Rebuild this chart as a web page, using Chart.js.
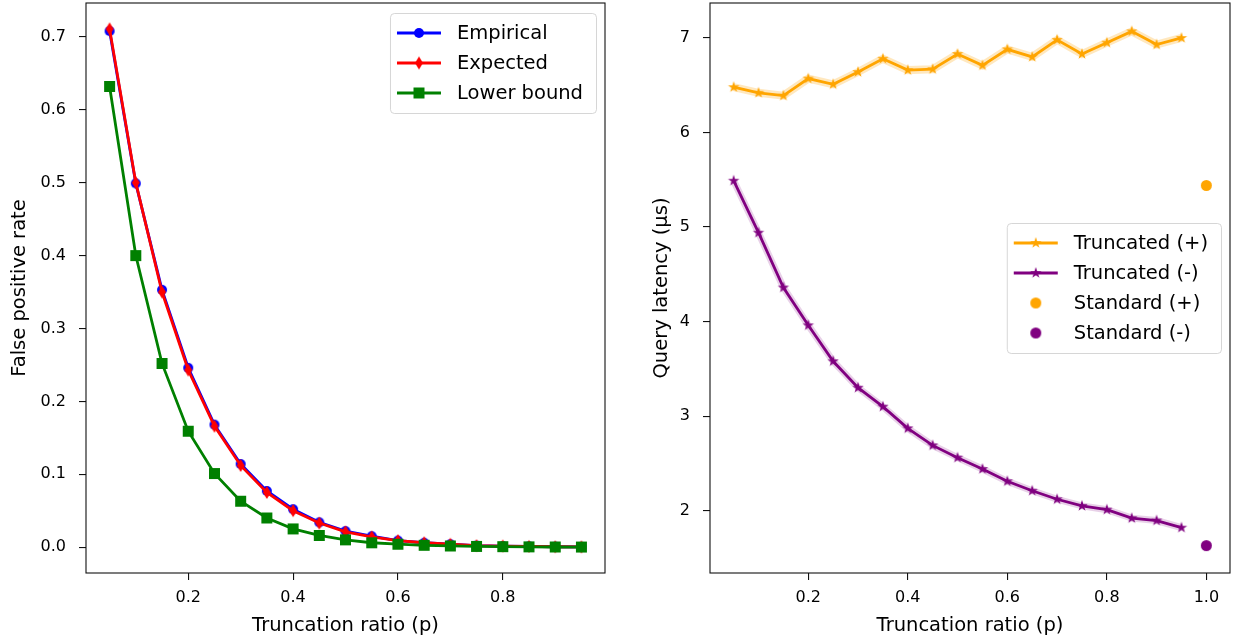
<!DOCTYPE html>
<html>
<head>
<meta charset="utf-8">
<script src="https://cdn.jsdelivr.net/npm/chart.js@4.4.1/dist/chart.umd.min.js"></script>
<style>
  html, body { margin: 0; padding: 0; background: #fff; }
  #wrap { position: relative; width: 1233px; height: 638px; overflow: hidden; }
  #fpr { position: absolute; left: 0; top: 0; }
  #lat { position: absolute; left: 640px; top: 0; }
</style>
</head>
<body>
<div id="wrap">
  <canvas id="fpr" width="640" height="638"></canvas>
  <canvas id="lat" width="593" height="638"></canvas>
</div>
<script>
// ---- data ----
const ratios = [0.05, 0.10, 0.15, 0.20, 0.25, 0.30, 0.35, 0.40, 0.45, 0.50,
                0.55, 0.60, 0.65, 0.70, 0.75, 0.80, 0.85, 0.90, 0.95];

const empirical  = [0.708, 0.499, 0.353, 0.246, 0.168, 0.114, 0.077, 0.052, 0.034, 0.022,
                    0.015, 0.009, 0.006, 0.004, 0.002, 0.0015, 0.001, 0.0005, 0.0003];
const expected   = [0.711, 0.500, 0.350, 0.243, 0.166, 0.112, 0.075, 0.050, 0.033, 0.021,
                    0.014, 0.009, 0.006, 0.004, 0.002, 0.0015, 0.001, 0.0005, 0.0003];
const lowerBound = [0.632, 0.400, 0.252, 0.159, 0.101, 0.063, 0.040, 0.025, 0.016, 0.010,
                    0.006, 0.004, 0.0025, 0.0016, 0.001, 0.0006, 0.0004, 0.0002, 0.0001];

const truncatedPos = [6.48, 6.42, 6.39, 6.57, 6.51, 6.64, 6.78, 6.66, 6.67, 6.83,
                      6.71, 6.88, 6.80, 6.98, 6.83, 6.95, 7.07, 6.93, 7.00];
const truncatedNeg = [5.49, 4.94, 4.36, 3.96, 3.58, 3.30, 3.10, 2.87, 2.69, 2.56,
                      2.44, 2.31, 2.21, 2.12, 2.05, 2.01, 1.92, 1.895, 1.82];
const standardRatio = 1.0;
const standardPos = 5.44;
const standardNeg = 1.63;

const fprTicksX = [0.2, 0.4, 0.6, 0.8];
const fprTicksY = [0.0, 0.1, 0.2, 0.3, 0.4, 0.5, 0.6, 0.7];
const latTicksX = [0.2, 0.4, 0.6, 0.8, 1.0];
const latTicksY = [2, 3, 4, 5, 6, 7];

// ---- styling helpers ----
const FONT = "'DejaVu Sans', 'Liberation Sans', sans-serif";
const BLUE = '#0000ff', RED = '#ff0000', GREEN = '#008000';
const ORANGE = '#ffa500', PURPLE = '#800080';

function marker(w, h, paint) {
  const c = document.createElement('canvas');
  c.width = w; c.height = h;
  const ctx = c.getContext('2d');
  paint(ctx, w / 2, h / 2);
  return c;
}
function circleMarker(r, color) {
  const s = Math.ceil(2 * r + 2);
  return marker(s, s, (ctx, cx, cy) => {
    ctx.fillStyle = color;
    ctx.beginPath(); ctx.arc(cx, cy, r, 0, Math.PI * 2); ctx.fill();
  });
}
function squareMarker(side, color) {
  const s = Math.ceil(side + 2);
  return marker(s, s, (ctx, cx, cy) => {
    ctx.fillStyle = color;
    ctx.fillRect(cx - side / 2, cy - side / 2, side, side);
  });
}
function thinDiamond(w, h, color) {
  return marker(Math.ceil(w + 2), Math.ceil(h + 2), (ctx, cx, cy) => {
    ctx.fillStyle = color;
    ctx.beginPath();
    ctx.moveTo(cx, cy - h / 2); ctx.lineTo(cx + w / 2, cy);
    ctx.lineTo(cx, cy + h / 2); ctx.lineTo(cx - w / 2, cy);
    ctx.closePath(); ctx.fill();
  });
}
function starMarker(R, color) {
  const s = Math.ceil(2 * R + 2);
  return marker(s, s, (ctx, cx, cy) => {
    const r = R * 0.382;
    ctx.fillStyle = color;
    ctx.beginPath();
    for (let i = 0; i < 10; i++) {
      const rad = i % 2 === 0 ? R : r;
      const a = -Math.PI / 2 + i * Math.PI / 5;
      const x = cx + rad * Math.cos(a), y = cy + rad * Math.sin(a);
      i === 0 ? ctx.moveTo(x, y) : ctx.lineTo(x, y);
    }
    ctx.closePath(); ctx.fill();
  });
}

const mkEmp = circleMarker(5, BLUE);
const mkExp = thinDiamond(8, 13, RED);
const mkLow = squareMarker(11, GREEN);
const mkStarPos = starMarker(6, ORANGE);
const mkStarNeg = starMarker(6, PURPLE);
const mkStdPos = circleMarker(5.5, ORANGE);
const mkStdNeg = circleMarker(5.5, PURPLE);

const pts = (xs, ys) => xs.map((x, i) => ({ x, y: ys[i] }));

// axes box with all four spines
const framePlugin = {
  id: 'frame',
  afterDatasetsDraw(chart) {
    const { ctx, chartArea: a } = chart;
    ctx.save();
    ctx.strokeStyle = '#111';
    ctx.lineWidth = 1.1;
    ctx.strokeRect(a.left, a.top, a.right - a.left, a.bottom - a.top);
    ctx.restore();
  }
};

// legend with line + marker handles
const handleLegend = {
  id: 'handleLegend',
  afterDraw(chart, args, opts) {
    const items = opts.items;
    if (!items) return;
    const { ctx, chartArea: a } = chart;
    ctx.save();
    ctx.font = `19.5px ${FONT}`;
    const textW = Math.max(...items.map(it => ctx.measureText(it.label).width));
    const w = 67 + textW + 13;
    const h = 40 + (items.length - 1) * 30;
    const left = a.right - 9 - w;
    const top = opts.loc === 'center right' ? (a.top + a.bottom) / 2 - h / 2 : a.top + 10;
    ctx.fillStyle = 'rgba(255,255,255,0.8)';
    ctx.strokeStyle = 'rgba(204,204,204,0.8)';
    ctx.lineWidth = 1;
    ctx.beginPath();
    ctx.roundRect(left + 0.5, top + 0.5, w, h, 4);
    ctx.fill(); ctx.stroke();
    items.forEach((it, i) => {
      const y = top + 20 + i * 30;
      if (it.line) {
        ctx.strokeStyle = it.color;
        ctx.lineWidth = 2.8;
        ctx.beginPath(); ctx.moveTo(left + 7, y); ctx.lineTo(left + 51, y); ctx.stroke();
      }
      const m = it.marker;
      ctx.drawImage(m, left + 29 - m.width / 2, y - m.height / 2);
      ctx.fillStyle = '#000';
      ctx.textBaseline = 'middle';
      ctx.textAlign = 'left';
      ctx.fillText(it.label, left + 67, y + 1);
    });
    ctx.restore();
  }
};

function xAxis(min, max, ticks, title) {
  return {
    type: 'linear', min, max,
    afterBuildTicks: s => { s.ticks = ticks.map(v => ({ value: v })); },
    afterFit: s => {
      s.height = 65;
      s.paddingLeft = s.paddingRight = s.paddingTop = s.paddingBottom = 0;
    },
    border: { display: false },
    grid: { drawOnChartArea: false, drawTicks: true, tickLength: 7, color: '#111', lineWidth: 1.1 },
    ticks: { color: '#000', font: { family: FONT, size: 16 }, padding: 8, maxRotation: 0,
             autoSkip: false, callback: v => v.toFixed(1) },
    title: { display: true, text: title, color: '#000', font: { family: FONT, size: 19.5 },
             padding: { top: 0, bottom: 0 } }
  };
}
function yAxis(min, max, ticks, fmt, title, width, titlePad) {
  return {
    type: 'linear', min, max,
    afterBuildTicks: s => { s.ticks = ticks.map(v => ({ value: v })); },
    afterFit: s => {
      s.width = width;
      s.paddingLeft = s.paddingRight = s.paddingTop = s.paddingBottom = 0;
    },
    border: { display: false },
    grid: { drawOnChartArea: false, drawTicks: true, tickLength: 7, color: '#111', lineWidth: 1.1 },
    ticks: { color: '#000', font: { family: FONT, size: 16 }, padding: 13, autoSkip: false,
             callback: fmt },
    title: { display: true, text: title, color: '#000', font: { family: FONT, size: 19.5 },
             padding: { top: titlePad, bottom: 0 } }
  };
}

const base = {
  responsive: false,
  animation: false,
  devicePixelRatio: 1,
  events: [],
  plugins: { legend: { display: false }, tooltip: { enabled: false } }
};

// ---- left: false positive rate ----
new Chart(document.getElementById('fpr'), {
  type: 'line',
  data: {
    datasets: [
      { label: 'Lower bound', data: pts(ratios, lowerBound), borderColor: GREEN,
        borderWidth: 2.8, pointStyle: mkLow, pointRadius: 6 },
      { label: 'Expected', data: pts(ratios, expected), borderColor: RED,
        borderWidth: 2.8, pointStyle: mkExp, pointRadius: 6 },
      { label: 'Empirical', data: pts(ratios, empirical), borderColor: BLUE,
        borderWidth: 2.8, pointStyle: mkEmp, pointRadius: 5 }
    ]
  },
  options: Object.assign({}, base, {
    layout: { autoPadding: false, padding: { top: 3, right: 35, bottom: 0, left: 0 } },
    scales: {
      x: xAxis(0.005, 0.995, fprTicksX, 'Truncation ratio (p)'),
      y: yAxis(-0.0355, 0.7465, fprTicksY, v => v.toFixed(1), 'False positive rate', 86, 8)
    },
    plugins: Object.assign({}, base.plugins, {
      handleLegend: { loc: 'upper right', items: [
        { label: 'Empirical', color: BLUE, line: true, marker: mkEmp },
        { label: 'Expected', color: RED, line: true, marker: mkExp },
        { label: 'Lower bound', color: GREEN, line: true, marker: mkLow }
      ] }
    })
  }),
  plugins: [framePlugin, handleLegend]
});

// ---- right: query latency ----
new Chart(document.getElementById('lat'), {
  type: 'line',
  data: {
    datasets: [
      { label: 'Standard (-)', data: [{ x: standardRatio, y: standardNeg }], showLine: false,
        pointStyle: mkStdNeg, pointRadius: 6 },
      { label: 'Standard (+)', data: [{ x: standardRatio, y: standardPos }], showLine: false,
        pointStyle: mkStdPos, pointRadius: 6 },
      { label: 'Truncated (-)', data: pts(ratios, truncatedNeg), borderColor: PURPLE,
        borderWidth: 2.8, pointStyle: mkStarNeg, pointRadius: 6 },
      { label: 'Truncated (+)', data: pts(ratios, truncatedPos), borderColor: ORANGE,
        borderWidth: 2.8, pointStyle: mkStarPos, pointRadius: 6 },
      // soft spread bands behind the two curves
      { label: '', data: pts(ratios, truncatedNeg), borderColor: 'rgba(128,0,128,0.18)',
        borderWidth: 7, pointRadius: 0 },
      { label: '', data: pts(ratios, truncatedPos), borderColor: 'rgba(255,165,0,0.25)',
        borderWidth: 8, pointRadius: 0 }
    ]
  },
  options: Object.assign({}, base, {
    layout: { autoPadding: false, padding: { top: 3, right: 3, bottom: 0, left: 0 } },
    scales: {
      x: xAxis(0.0025, 1.0475, latTicksX, 'Truncation ratio (p)'),
      y: yAxis(1.34, 7.37, latTicksY, v => String(v), 'Query latency (\u00b5s)', 70, 10)
    },
    plugins: Object.assign({}, base.plugins, {
      handleLegend: { loc: 'center right', items: [
        { label: 'Truncated (+)', color: ORANGE, line: true, marker: mkStarPos },
        { label: 'Truncated (-)', color: PURPLE, line: true, marker: mkStarNeg },
        { label: 'Standard (+)', color: ORANGE, line: false, marker: mkStdPos },
        { label: 'Standard (-)', color: PURPLE, line: false, marker: mkStdNeg }
      ] }
    })
  }),
  plugins: [framePlugin, handleLegend]
});
</script>
</body>
</html>
